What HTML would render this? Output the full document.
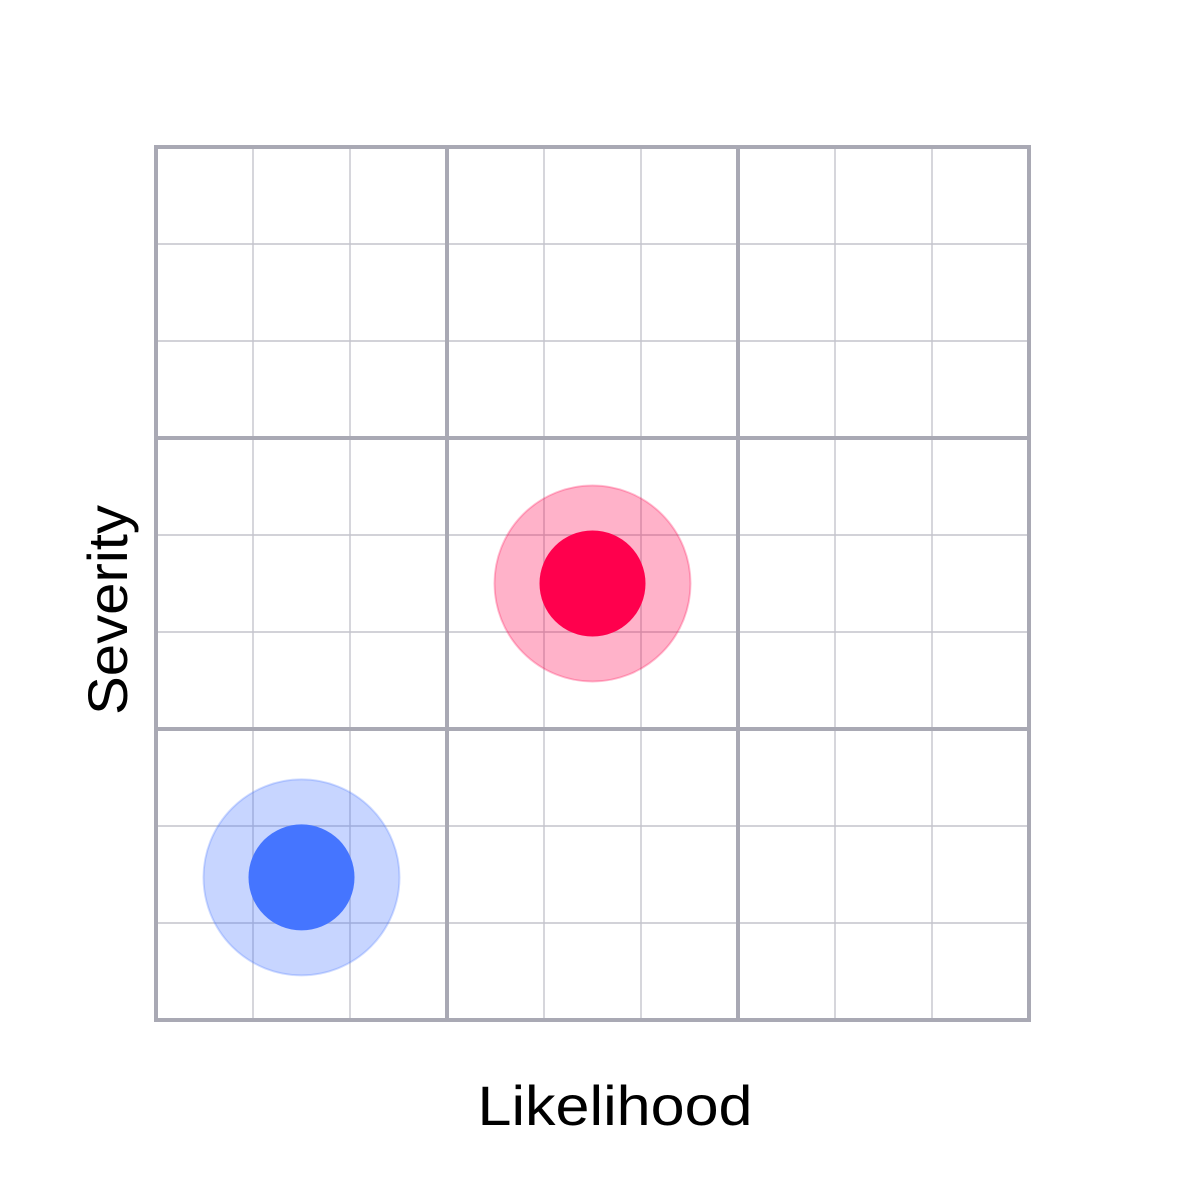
<!DOCTYPE html>
<html><head><meta charset="utf-8"><style>
html,body{margin:0;padding:0;background:#fff;}
svg{display:block;}
text{font-family:"Liberation Sans",sans-serif;fill:#000;}
</style></head><body>
<svg id="chart" width="1200" height="1200" viewBox="0 0 1200 1200">
<g id="grid"></g>
<g id="points"></g>
<text x="615" y="1125" text-anchor="middle" font-size="56" textLength="275" lengthAdjust="spacingAndGlyphs">Likelihood</text>
<text transform="translate(127,610) rotate(-90)" text-anchor="middle" font-size="56" textLength="210" lengthAdjust="spacingAndGlyphs">Severity</text>
</svg>
<script>
const categories = ["low-risk", "medium-risk"];
const likelihoodValues = [1.5, 4.5];
const severityValues = [1.47, 4.5];
const pointColors = ["#4575ff", "#ff004d"];

const NS = "http://www.w3.org/2000/svg";
const x0 = 156, x1 = 1029, y0 = 1020, y1 = 147, N = 9;
const sx = v => x0 + (x1 - x0) * v / N;
const sy = v => y0 - (y0 - y1) * v / N;
const grid = document.getElementById('grid');
const pts = document.getElementById('points');
function mk(tag, attrs, parent) {
  const e = document.createElementNS(NS, tag);
  for (const k in attrs) e.setAttribute(k, attrs[k]);
  parent.appendChild(e);
  return e;
}
for (let i = 0; i <= N; i++) {
  if (i % 3 === 0) continue;
  const v = mk('line', {x1: sx(i), x2: sx(i), y1: y1, y2: y0, stroke: '#c4c4cc', 'stroke-width': 1.4}, grid);
  
  
  const h = mk('line', {x1: x0, x2: x1, y1: sy(i), y2: sy(i), stroke: '#c4c4cc', 'stroke-width': 1.4}, grid);
  
  
}
for (let i = 0; i <= N; i += 3) {
  const v = mk('line', {x1: sx(i), x2: sx(i), y1: y1 - 2, y2: y0 + 2, stroke: '#a9a9b4', 'stroke-width': 4}, grid);
  
  
  const h = mk('line', {x1: x0 - 2, x2: x1 + 2, y1: sy(i), y2: sy(i), stroke: '#a9a9b4', 'stroke-width': 4}, grid);
  
  
}
categories.forEach((c, i) => {
  const cx = sx(likelihoodValues[i]), cy = sy(severityValues[i]);
  const halo = mk('circle', {cx: cx, cy: cy, r: 98, fill: pointColors[i], 'fill-opacity': 0.3, stroke: pointColors[i], 'stroke-opacity': 0.25, 'stroke-width': 2}, pts);
  
  
  const dot = mk('circle', {cx: cx, cy: cy, r: 53, fill: pointColors[i]}, pts);
  
  
});
</script>
</body></html>
